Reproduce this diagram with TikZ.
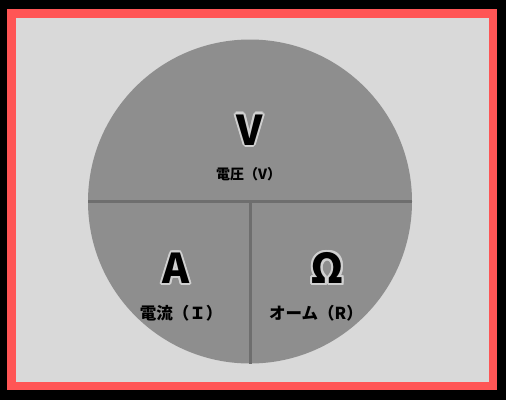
\documentclass[tikz,border=0pt]{standalone}
\usepackage{fontspec}
\setmainfont{Noto Sans CJK JP}
\usepackage{contour}
\contourlength{2.2pt}
\contournumber{10}

\definecolor{framered}{HTML}{FF5555}
\definecolor{panelgray}{HTML}{D9D9D9}
\definecolor{circlegray}{HTML}{8E8E8E}
\definecolor{dividergray}{HTML}{6E6E6E}
\definecolor{rimgray}{HTML}{D0D0D0}

\tikzset{
  symbol/.style={font=\fontsize{41}{41}\selectfont\bfseries, inner sep=0pt},
  quantity/.style={font=\fontsize{14}{14}\selectfont\bfseries, inner sep=0pt},
  bigquantity/.style={quantity, font=\fontsize{16.5}{17}\selectfont\bfseries}
}

\begin{document}
\begin{tikzpicture}[x=1pt,y=-1pt]
    % Background and frame
    \useasboundingbox (0,0) rectangle (506,400);
    \fill[black] (0,0) rectangle (506,400);
    \fill[framered] (7,9) rectangle (497,390);
    \fill[panelgray] (15.5,17.5) rectangle (488.5,381.5);

    % Circle
    \coordinate (center) at (250,201.5);
    \fill[circlegray] (center) circle[radius=162pt];

    % Dividers
    \draw[dividergray,line width=3pt] ([xshift=-162pt]center) -- ([xshift=162pt]center);
    \draw[dividergray,line width=3pt] (center) -- ([yshift=-162pt]center);

    % Voltage
    \node[symbol] (V) at (249.5,131) {\contour{rimgray}{V}};
    \node[quantity] (voltage) at (248.5,174.5) {電圧（V）};

    % Current
    \node[symbol] (A) at (176,269.5) {\contour{rimgray}{A}};
    \node[bigquantity] (current) at (181,313) {電流（Ｉ）};

    % Resistance
    \node[symbol] (ohm) at (327.5,269) {\contour{rimgray}{Ω}};
    \node[bigquantity] (resistance) at (316,313) {オーム（R）};
\end{tikzpicture}
\end{document}
